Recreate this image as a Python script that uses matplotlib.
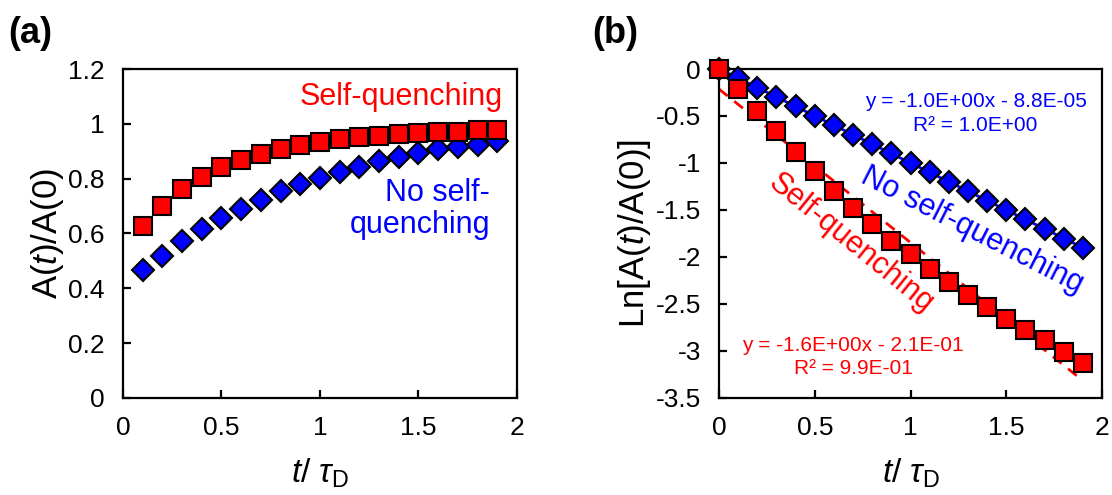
import matplotlib
matplotlib.use("Agg")
import matplotlib.pyplot as plt
import numpy as np
from matplotlib.ticker import FuncFormatter

plt.rcParams['font.family'] = ['Liberation Sans', 'DejaVu Sans']
plt.rcParams['mathtext.fontset'] = 'custom'
plt.rcParams['mathtext.rm'] = 'Liberation Sans'
plt.rcParams['mathtext.it'] = 'Liberation Sans:italic'
plt.rcParams['axes.unicode_minus'] = False

# ---- data ----
t_a = [0.1, 0.2, 0.3, 0.4, 0.5, 0.6, 0.7, 0.8, 0.9, 1.0,
       1.1, 1.2, 1.3, 1.4, 1.5, 1.6, 1.7, 1.8, 1.9]
selfq_a = [0.628, 0.701, 0.761, 0.807, 0.841, 0.869, 0.890, 0.909, 0.923, 0.935,
           0.946, 0.952, 0.957, 0.963, 0.968, 0.971, 0.972, 0.976, 0.978]
noselfq_a = [0.467, 0.519, 0.573, 0.616, 0.655, 0.689, 0.722, 0.755, 0.780, 0.801,
             0.825, 0.844, 0.864, 0.880, 0.892, 0.907, 0.917, 0.923, 0.938]

t_b = [0.0, 0.1, 0.2, 0.3, 0.4, 0.5, 0.6, 0.7, 0.8, 0.9, 1.0,
       1.1, 1.2, 1.3, 1.4, 1.5, 1.6, 1.7, 1.8, 1.9]
selfq_b = [0.0, -0.213, -0.443, -0.656, -0.886, -1.081, -1.293, -1.477, -1.647, -1.825,
           -1.973, -2.125, -2.268, -2.409, -2.533, -2.657, -2.781, -2.887, -3.011, -3.124]
noselfq_b = [0.0, -0.095, -0.205, -0.300, -0.397, -0.496, -0.600, -0.698, -0.800, -0.896,
             -0.999, -1.098, -1.198, -1.293, -1.400, -1.498, -1.600, -1.700, -1.807, -1.906]

fit_red = "y = -1.6E+00x - 2.1E-01\nR\u00b2 = 9.9E-01"
fit_blue = "y = -1.0E+00x - 8.8E-05\nR\u00b2 = 1.0E+00"

RED = "#ff0000"
BLUE = "#0000ff"

fig = plt.figure(figsize=(11.12, 4.95), dpi=100)
ax1 = fig.add_axes([0.1106, 0.196, 0.3543, 0.6646])
ax2 = fig.add_axes([0.6466, 0.196, 0.3444, 0.6646])

fmt = FuncFormatter(lambda v, p: "%g" % round(v, 2))

for ax in (ax1, ax2):
    for s in ax.spines.values():
        s.set_linewidth(1.6)
    ax.tick_params(direction='in', length=6, width=1.6, labelsize=19, pad=13)
    ax.set_xlim(0, 2)
    ax.set_xticks([0, 0.5, 1, 1.5, 2])
    ax.xaxis.set_major_formatter(fmt)
    ax.yaxis.set_major_formatter(fmt)
    ax.set_xlabel(r'$t$/ $\tau_{\mathrm{D}}$', fontsize=24, labelpad=12)

# (a)
ax1.plot(t_a, noselfq_a, 'D', ms=11, mfc=BLUE, mec='black', mew=1.5, clip_on=False, zorder=3)
ax1.plot(t_a, selfq_a, 's', ms=13, mfc=RED, mec='black', mew=1.5, clip_on=False, zorder=4)
ax1.set_ylim(0, 1.2)
ax1.set_yticks(np.arange(0, 1.21, 0.2))
ax1.set_ylabel(r'A($t$)/A(0)', fontsize=25, labelpad=2)
ax1.text(0.964, 0.915, "Self-quenching", color=RED, fontsize=22,
         transform=ax1.transAxes, ha='right', va='center')
ax1.text(0.931, 0.575, "No self-\nquenching", color=BLUE, fontsize=22,
         transform=ax1.transAxes, ha='right', va='center', linespacing=1.1,
         multialignment='right')

# (b)
tb = np.array(t_b)
kr, br = np.polyfit(tb, selfq_b, 1)
kb, bb = np.polyfit(tb, noselfq_b, 1)
ax2.plot(tb, kb * tb + bb, '-', color=BLUE, lw=2, zorder=2)
ax2.plot(tb, kr * tb + br, '--', color=RED, lw=2, dashes=(4, 3), zorder=2)
ax2.plot(t_b, noselfq_b, 'D', ms=11, mfc=BLUE, mec='black', mew=1.5, clip_on=False, zorder=3)
ax2.plot(t_b, selfq_b, 's', ms=13, mfc=RED, mec='black', mew=1.5, clip_on=False, zorder=4)
ax2.set_ylim(-3.5, 0)
ax2.set_yticks(np.arange(-3.5, 0.01, 0.5))
ax2.set_ylabel(r'Ln[A($t$)/A(0)]', fontsize=25, labelpad=2)
ax2.text(0.67, 0.865, fit_blue, color=BLUE, fontsize=15, transform=ax2.transAxes,
         ha='center', va='center', linespacing=1.3)
ax2.text(0.35, 0.125, fit_red, color=RED, fontsize=15, transform=ax2.transAxes,
         ha='center', va='center', linespacing=1.3)
ax2.text(0.66, 0.51, "No self-quenching", color=BLUE, fontsize=22, rotation=-27,
         transform=ax2.transAxes, ha='center', va='center', rotation_mode='anchor')
ax2.text(0.345, 0.47, "Self-quenching", color=RED, fontsize=22, rotation=-39,
         transform=ax2.transAxes, ha='center', va='center', rotation_mode='anchor')

fig.text(0.027, 0.933, "(a)", fontsize=26, fontweight='bold', ha='center', va='center')
fig.text(0.553, 0.933, "(b)", fontsize=26, fontweight='bold', ha='center', va='center')

fig.savefig("out.png", dpi=100)
